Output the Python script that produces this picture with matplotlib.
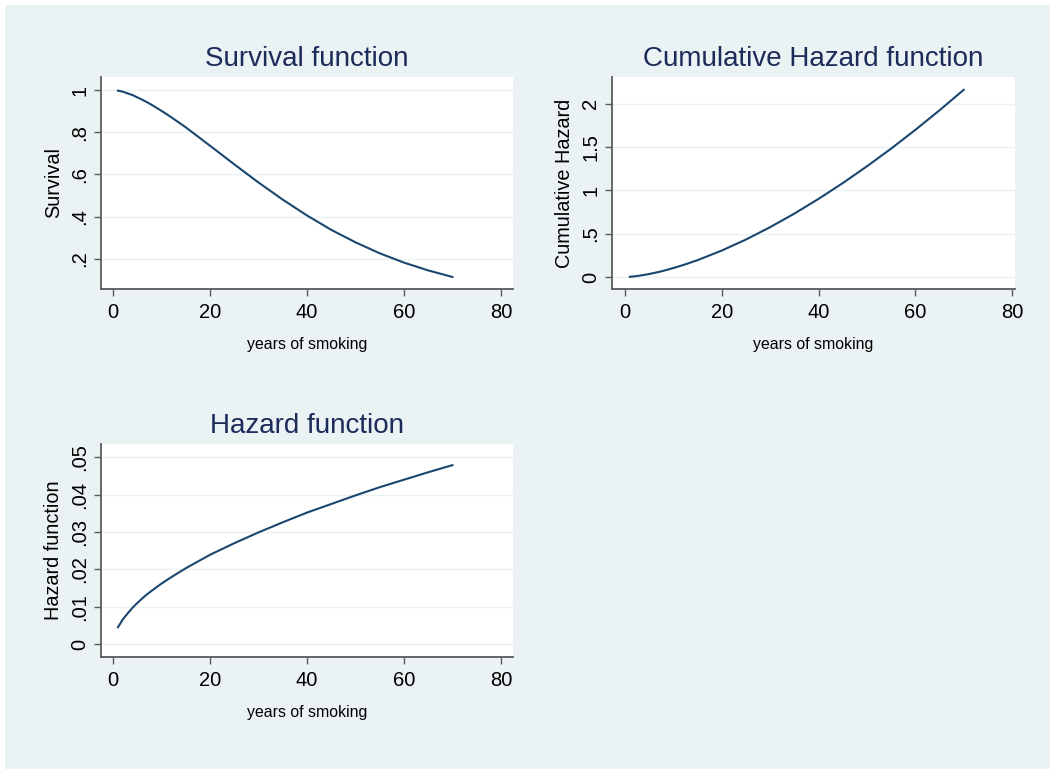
import matplotlib.pyplot as plt
from matplotlib.patches import Rectangle

plt.rcParams['font.family'] = ['Liberation Sans', 'DejaVu Sans']

# values
years = [1, 2, 3, 4, 5, 6, 7, 8, 10, 12, 15, 20, 25, 30, 35, 40, 45, 50, 55, 60, 65, 70]
survival = [0.997, 0.992, 0.984, 0.976, 0.965, 0.954, 0.942, 0.929, 0.901, 0.871, 0.823,
            0.736, 0.648, 0.562, 0.481, 0.406, 0.338, 0.279, 0.227, 0.183, 0.146, 0.115]
cum_hazard = [0.003, 0.008, 0.016, 0.025, 0.035, 0.047, 0.059, 0.073, 0.104, 0.138, 0.195,
              0.306, 0.433, 0.576, 0.732, 0.902, 1.084, 1.278, 1.482, 1.698, 1.924, 2.160]
hazard = [0.0045, 0.0066, 0.0082, 0.0097, 0.0110, 0.0122, 0.0133, 0.0143, 0.0162, 0.0179, 0.0203,
          0.0239, 0.0270, 0.0299, 0.0326, 0.0352, 0.0375, 0.0398, 0.0420, 0.0440, 0.0460, 0.0479]

x_ticks = [0, 20, 40, 60, 80]
surv_ticks = [0.2, 0.4, 0.6, 0.8, 1.0]
surv_labels = ['.2', '.4', '.6', '.8', '1']
ch_ticks = [0, 0.5, 1, 1.5, 2]
ch_labels = ['0', '.5', '1', '1.5', '2']
hz_ticks = [0, 0.01, 0.02, 0.03, 0.04, 0.05]
hz_labels = ['0', '.01', '.02', '.03', '.04', '.05']

bg = '#eaf2f3'
line_col = '#1a476f'
title_col = '#1c2b5a'
axis_col = '#5a5a5a'

fig = plt.figure(figsize=(10.5, 7.69), dpi=100, facecolor='white')
fig.patches.append(Rectangle((5 / 1050, 0), 1, 1 - 5 / 769, transform=fig.transFigure,
                             facecolor=bg, edgecolor='none', zorder=-1))


def panel(rect, y, yticks, ylabels, ylim, xlim, title, ylabel):
    ax = fig.add_axes(rect)
    ax.plot(years, y, color=line_col, lw=1.5, zorder=3, solid_joinstyle='round')
    ax.set_xlim(*xlim)
    ax.set_ylim(*ylim)
    ax.set_xticks(x_ticks)
    ax.set_xticklabels([str(v) for v in x_ticks], fontsize=14.5)
    ax.set_yticks(yticks)
    ax.set_yticklabels(ylabels, fontsize=14.5, rotation=90, va='center')
    for yv in yticks:
        ax.axhline(yv, color=bg, lw=1.0, zorder=1)
    for s in ['top', 'right']:
        ax.spines[s].set_visible(False)
    for s in ['left', 'bottom']:
        ax.spines[s].set_color(axis_col)
        ax.spines[s].set_linewidth(1.3)
    ax.tick_params(length=5, width=1.0, color=axis_col)
    ax.tick_params(axis='x', pad=5)
    ax.tick_params(axis='y', pad=3.5)
    ax.set_title(title, fontsize=20, color=title_col, pad=8)
    ax.set_xlabel('years of smoking', fontsize=11.4, labelpad=11)
    ax.set_ylabel(ylabel, fontsize=14.3, labelpad=5)
    return ax


panel([101 / 1050, 1 - 289 / 769, 412 / 1050, 212 / 769], survival, surv_ticks, surv_labels,
      (0.058, 1.0615), (-2.5, 82.5), 'Survival function', 'Survival')
panel([612 / 1050, 1 - 289 / 769, 403 / 1050, 212 / 769], cum_hazard, ch_ticks, ch_labels,
      (-0.138, 2.308), (-2.7, 80.6), 'Cumulative Hazard function', 'Cumulative Hazard')
panel([101 / 1050, 1 - 657 / 769, 412 / 1050, 213 / 769], hazard, hz_ticks, hz_labels,
      (-0.00348, 0.05357), (-2.5, 82.5), 'Hazard function', 'Hazard function')

fig.savefig('out.png', dpi=100, facecolor=fig.get_facecolor())
